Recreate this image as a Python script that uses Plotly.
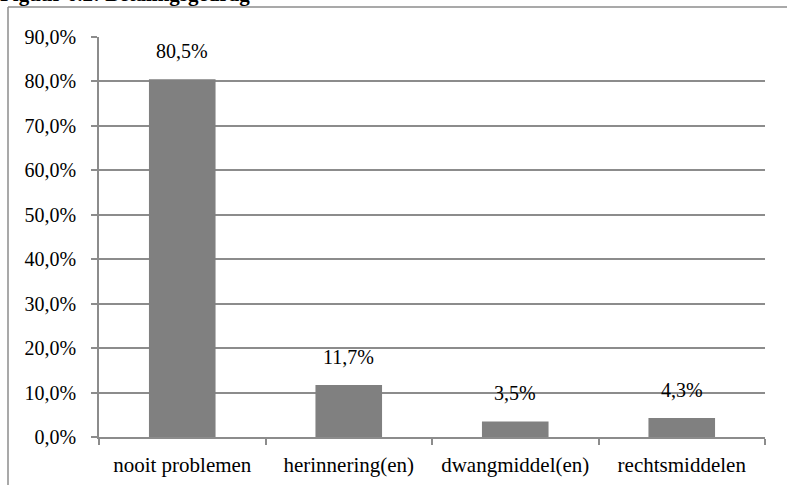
import plotly.graph_objects as go

categories = ["nooit problemen", "herinnering(en)", "dwangmiddel(en)", "rechtsmiddelen"]
values = [80.5, 11.7, 3.5, 4.3]
value_labels = ["80,5%", "11,7%", "3,5%", "4,3%"]
tick_vals = [0, 10, 20, 30, 40, 50, 60, 70, 80, 90]
tick_text = ["0,0%", "10,0%", "20,0%", "30,0%", "40,0%", "50,0%", "60,0%", "70,0%", "80,0%", "90,0%"]
title_text = "Figuur 6.2: Betalingsgedrag"

W, H = 787, 485
L, R, T, B = 99, 765, 37, 437
pw, ph = R - L, B - T

FONT = "Liberation Serif"
GRID = "#8c8c8c"

fig = go.Figure()
fig.add_trace(go.Bar(
    x=categories, y=values, marker=dict(color="#808080", line=dict(width=0)),
    width=0.4, hoverinfo="skip"
))

for c, v, t in zip(categories, values, value_labels):
    fig.add_annotation(x=c, y=v, text=t, showarrow=False, yanchor="bottom",
                       yshift=15, font=dict(family=FONT, size=20, color="#000"))

def px_x(p):
    return (p - L) / pw

def px_y(p):
    return 1 - (p - T) / ph

# outer chart border (left and top)
fig.add_shape(type="line", xref="paper", yref="paper", x0=px_x(8), x1=px_x(800),
              y0=px_y(7), y1=px_y(7), line=dict(color="#8c8c8c", width=1.5))
fig.add_shape(type="line", xref="paper", yref="paper", x0=px_x(8), x1=px_x(8),
              y0=px_y(7), y1=px_y(500), line=dict(color="#8c8c8c", width=1.5))

fig.update_layout(
    width=W, height=H,
    margin=dict(l=L, r=W - R, t=T, b=H - B, autoexpand=False),
    paper_bgcolor="white", plot_bgcolor="white",
    showlegend=False, bargap=0.6,
    title=dict(text="<b>" + title_text + "</b>", x=0, xref="container", xanchor="left",
               y=1 - 1 / H, yref="container", yanchor="bottom",
               font=dict(family=FONT, size=21, color="#000"), pad=dict(l=0, t=0, b=0)),
    xaxis=dict(type="category", showline=True, linecolor=GRID, linewidth=1.5,
               ticks="outside", tickson="boundaries", ticklen=6, tickcolor=GRID,
               tickwidth=1.5, showgrid=False, automargin=False, ticklabelstandoff=8,
               tickfont=dict(family=FONT, size=21, color="#000"), fixedrange=True),
    yaxis=dict(range=[0, 90], tickvals=tick_vals, ticktext=tick_text,
               showline=True, linecolor=GRID, linewidth=1.5, ticks="outside",
               ticklen=6, tickcolor=GRID, tickwidth=1.5, showgrid=True,
               gridcolor=GRID, gridwidth=1.5, zeroline=False, automargin=False,
               ticklabelstandoff=11,
               tickfont=dict(family=FONT, size=20, color="#000"), fixedrange=True),
)

fig.write_html("out.html", config={"displayModeBar": False},
               post_script="document.body.style.margin='0';")
